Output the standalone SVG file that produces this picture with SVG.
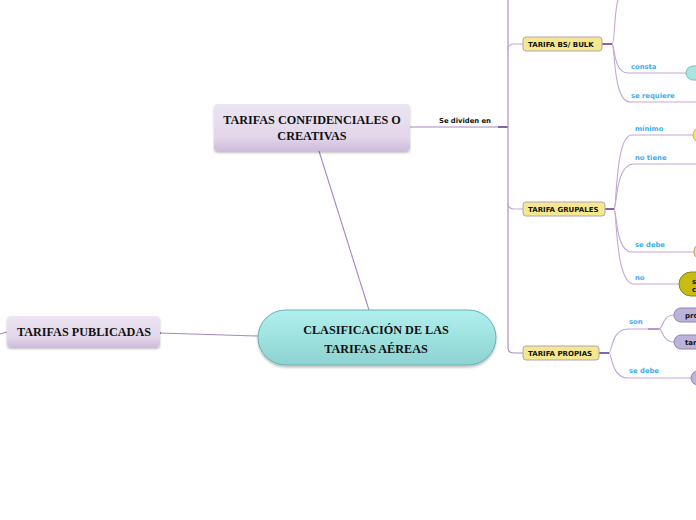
<svg xmlns="http://www.w3.org/2000/svg" width="696" height="520" viewBox="0 0 696 520">
<defs>
<linearGradient id="gLav" x1="0" y1="0" x2="0" y2="1">
<stop offset="0" stop-color="#ece5f2"/><stop offset="0.7" stop-color="#e2d6ea"/><stop offset="1" stop-color="#cdbcdb"/>
</linearGradient>
<linearGradient id="gTeal" x1="0" y1="0" x2="0" y2="1">
<stop offset="0" stop-color="#b0f0ee"/><stop offset="1" stop-color="#8dd3d1"/>
</linearGradient>
<filter id="sh" x="-10%" y="-20%" width="120%" height="160%">
<feDropShadow dx="0" dy="2" stdDeviation="1.2" flood-color="#000" flood-opacity="0.25"/>
</filter>
</defs>
<style>
.big{font-family:"Liberation Serif","Times New Roman",serif;font-weight:bold;font-size:12.2px;fill:#111;text-anchor:middle}
.tf{font-family:"DejaVu Sans",Verdana,sans-serif;font-weight:bold;font-size:7px;fill:#111}
.lbl{font-family:"DejaVu Sans",Verdana,sans-serif;font-weight:bold;font-size:6.8px;fill:#3aaeee}
.blk{font-family:"DejaVu Sans",Verdana,sans-serif;font-weight:bold;font-size:6.8px;fill:#111}
.ln{fill:none;stroke:#c2a8d6;stroke-width:1.1}
.ln2{fill:none;stroke:#a886c2;stroke-width:1.1}
.thk{fill:none;stroke:#8a62aa;stroke-width:2}
.lav{fill:url(#gLav);filter:url(#sh)}
.yel{fill:#f3e88e;stroke:#b7a0b6;stroke-width:1}
.gry{fill:#bcb4d8;stroke:#9282b2;stroke-width:1}
</style>
<g id="connectors">
<path class="ln2" d="M258,336 L160,333"/>
<circle cx="160" cy="333" r="1" fill="#8a62aa"/>
<path class="ln2" d="M7,332 L0,334"/>
<path class="ln2" d="M369,310 L319,151"/>
<path class="ln2" d="M410,127 L499,127"/>
<path class="thk" d="M498,127 L508,127"/>
<path class="ln2" d="M508,0 L508,348 Q508,353 514,353 L523,353"/>
<path class="ln" d="M508,50 Q508,44 514,44 L523,44"/>
<path class="ln" d="M508,203 Q508,209 514,209 L523,209"/>
<path class="thk" d="M602,44 L612,44"/>
<path class="ln" d="M612,44 C615,44 614,12 618,0"/>
<path class="ln" d="M612,44 C615,44 613,73 628,73 L686,73"/>
<path class="ln" d="M612,44 C615,44 613,102 630,102 L696,102"/>
<path class="thk" d="M605,209 L614,209"/>
<path class="ln" d="M614,209 C617,209 615,135 632,135 L693,135"/>
<path class="ln" d="M614,209 C617,209 615,164 634,164 L696,164"/>
<path class="ln" d="M614,209 C617,209 615,252 632,252 L694,252"/>
<path class="ln" d="M614,209 C617,209 615,284 634,284 L679,284"/>
<path class="thk" d="M599,353 L609,353"/>
<path class="ln" d="M609,353 C612,353 611,329 628,329 L649,329"/>
<path class="thk" style="stroke:#b496cc" d="M648,329 L659,329"/>
<path class="ln" d="M659,329 C663,329 662,315 674,315"/>
<path class="ln" d="M659,329 C663,329 662,342 674,342"/>
<path class="ln" d="M609,353 C612,353 611,378 628,378 L691,378"/>
</g>
<g id="lbls">
<text class="blk" x="439" y="123">Se dividen en</text>
<text class="lbl" x="631" y="69">consta</text>
<text class="lbl" x="631" y="98">se requiere</text>
<text class="lbl" x="635" y="131">mínimo</text>
<text class="lbl" x="635" y="160">no tiene</text>
<text class="lbl" x="635" y="247">se debe</text>
<text class="lbl" x="635" y="280">no</text>
<text class="lbl" x="629" y="324">son</text>
<text class="lbl" x="629" y="373">se debe</text>
</g>
<g id="central">
<rect x="258" y="310" width="238" height="55" rx="27.5" fill="url(#gTeal)" stroke="#6aaeae" stroke-width="1" filter="url(#sh)"/>
<text class="big" x="376" y="334">CLASIFICACIÓN DE LAS</text>
<text class="big" x="376" y="353">TARIFAS AÉREAS</text>
</g>
<g id="confidenciales">
<rect class="lav" x="214" y="104" width="196" height="47" rx="4"/>
<text class="big" x="312" y="124">TARIFAS CONFIDENCIALES O</text>
<text class="big" x="312" y="140">CREATIVAS</text>
</g>
<g id="publicadas">
<rect class="lav" x="7" y="316" width="153" height="31" rx="4"/>
<text class="big" x="84" y="336">TARIFAS PUBLICADAS</text>
</g>
<g id="bulk">
<rect class="yel" x="523" y="37" width="79" height="14" rx="3"/>
<text class="tf" x="528" y="47">TARIFA BS/ BULK</text>
</g>
<g id="grupales">
<rect class="yel" x="523" y="202" width="82" height="14" rx="3"/>
<text class="tf" x="528" y="212">TARIFA GRUPALES</text>
</g>
<g id="propias">
<rect class="yel" x="523" y="346" width="76" height="14" rx="3"/>
<text class="tf" x="528" y="356">TARIFA PROPIAS</text>
</g>
<g id="consta-node"><rect x="686" y="66" width="40" height="14" rx="7" fill="#a8e4e0" stroke="#7cbcbc"/></g>
<g id="minimo-node"><rect x="693" y="128" width="40" height="14" rx="7" fill="#f8e858" stroke="#c4b43c"/></g>
<g id="sedebe-node"><rect x="694" y="244" width="40" height="15" rx="7" fill="#efe2a2" stroke="#ad9c70"/></g>
<g id="no-node">
<rect x="679" y="272" width="60" height="24" rx="12" fill="#c8bc12" stroke="#8c8214"/>
<text class="tf" x="692" y="284">s</text>
<text class="tf" x="692" y="292">c</text>
</g>
<g id="pro-node"><rect class="gry" x="674" y="308" width="40" height="14" rx="7"/><text class="tf" x="685" y="318">pro</text></g>
<g id="tar-node"><rect class="gry" x="674" y="335" width="40" height="14" rx="7"/><text class="tf" x="685" y="345">tar</text></g>
<g id="sedebe2-node"><rect class="gry" x="691" y="371" width="40" height="14" rx="7"/></g>
</svg>
